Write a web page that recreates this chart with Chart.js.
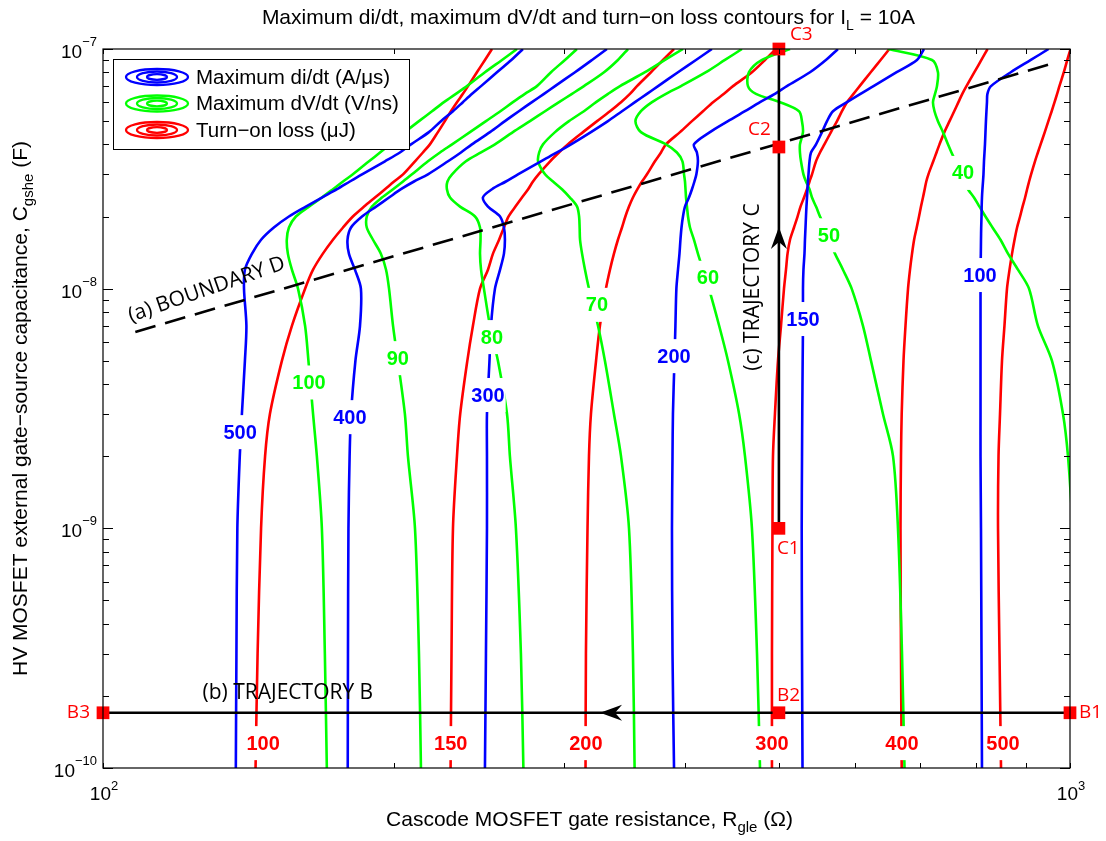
<!DOCTYPE html>
<html>
<head>
<meta charset="utf-8">
<title>Contours di/dt, dV/dt et pertes</title>
<script src="https://cdn.jsdelivr.net/npm/chart.js@4.4.1/dist/chart.umd.min.js"></script>
<style>
  html, body { margin: 0; padding: 0; background: #fff; }
  canvas { display: block; }
</style>
</head>
<body>
<canvas id="chart" width="1106" height="841"></canvas>
<script>
// Grille des capacités C_gshe (F) sur laquelle chaque contour est relevé
const capGrid = [1e-10, 3e-10, 1e-9, 2e-9, 3e-9, 5e-9, 7e-9, 1e-8, 1.2e-8, 1.4e-8, 1.6e-8, 1.8e-8, 2e-8, 2.2e-8,
    2.4e-8, 2.6e-8, 2.8e-8, 3e-8, 3.4e-8, 3.7e-8, 4e-8, 4.5e-8, 5e-8, 5.5e-8, 6e-8, 6.5e-8, 7e-8, 8e-8, 9e-8, 1e-7];

// Contours di/dt max (A/µs) : résistance R_gle (ohm) pour chaque valeur de capGrid
const diLevels = ['500', '400', '300', '200', '150', '100'];
const di500 = [137.2, 137.4, 137.7, 138.5, 139.2, 140.2, 140.7, 139.9, 140.2, 142.6, 145.7, 150.2, 155.7, 162.1, 168.4, 174.6, 180, 185.3, 195.7, 202.8, 208.2, 217.3, 223.6, 230.1, 235.6, 240.8, 246, 255.5, 264.4, 271.8];
const di400 = [179.1, 179.2, 179.4, 179.9, 180.5, 182.4, 184.4, 184.8, 182.2, 179.6, 179, 180.5, 185.3, 191.6, 197.6, 203.3, 209.7, 216.8, 227.4, 234.5, 240.7, 251.3, 260.4, 269.2, 277.7, 285.8, 293.4, 307.7, 320.4, 332];
const di300 = [248.3, 248.9, 249.5, 249.5, 249.5, 251, 251.9, 254.3, 257.4, 259.8, 260.4, 259.8, 257.4, 250.1, 247.1, 252.5, 261, 268.6, 283.7, 294.8, 304.8, 319.6, 332.8, 344.1, 354.9, 365.2, 375, 393.2, 410.4, 426.3];
const di200 = [389.5, 388.1, 387.6, 388.1, 388.5, 389.9, 390.8, 391.7, 393.2, 394.6, 395.5, 396.5, 397.9, 399.8, 403.6, 406.5, 408.9, 410.8, 412.3, 411.3, 408.4, 424.3, 442.9, 461.2, 478, 495.3, 509.6, 538.4, 559.2, 575.5];
const di150 = [528.9, 528.3, 527.9, 528.3, 528.6, 529.1, 529.5, 529.5, 530.1, 531.4, 532, 532.7, 533.3, 533.9, 534.6, 535.2, 535.8, 536.5, 537.8, 539.7, 546.2, 554, 560.7, 568.7, 588, 607.2, 626.3, 661.8, 694.6, 706.3];
const di100 = [810.9, 810, 809, 808.1, 808.1, 808.1, 808.1, 808.1, 808.1, 808.7, 809, 809.4, 810, 810.3, 810.9, 811.8, 812.9, 813.8, 814.8, 815.8, 816.7, 817.7, 818.6, 819.6, 820.6, 821.5, 828.5, 868.5, 910.9, 950.3];

// Contours dV/dt max (V/ns)
const dvLevels = ['100', '90', '80', '70', '60', '50', '40'];
const dv100 = [170.4, 169.6, 168.4, 166.4, 164.9, 163.1, 161.8, 159.1, 156.8, 155.3, 154.9, 155.7, 158.3, 163.3, 168.4, 172.9, 177.1, 181.3, 188.4, 193.4, 198, 205.2, 212.2, 218.9, 225.2, 231.7, 237.9, 248.3, 258.6, 268];
const dv90 = [213.2, 212.2, 210.2, 206.7, 205.2, 201.8, 199.5, 197.6, 196.2, 193.8, 190.2, 187.4, 187.4, 189.7, 194.3, 199.5, 204.3, 208.7, 216.8, 223.1, 229.6, 239.6, 248.9, 257.6, 265.4, 273.1, 281, 290.6, 300.4, 309.1];
const dv80 = [272.1, 270.5, 267.3, 263.5, 261.7, 256.1, 251.3, 247.7, 246, 245.4, 245.7, 245.4, 242.5, 234, 228.5, 226.8, 227.1, 229.6, 237.3, 246, 254.3, 265.4, 276.4, 286.5, 296.2, 305.5, 314.3, 329.7, 340.8, 349.1];
const dv70 = [354.6, 353.2, 349.9, 343.3, 337.6, 330.4, 325, 318.1, 315.1, 312.9, 311.4, 311.1, 310.7, 309.2, 304, 298.3, 292, 286.5, 281.8, 282.5, 285.1, 293.4, 303.3, 314.3, 323.5, 332.9, 342.5, 363.5, 381.2, 397.9];
const dv60 = [478, 474.6, 468.9, 461.2, 454.8, 442.9, 433.7, 423.3, 417.3, 412.3, 408.4, 404.6, 402.7, 401.7, 400.8, 400.3, 399.8, 398.9, 397.4, 392.2, 382.1, 360, 355.3, 360, 369.6, 382.1, 396, 420.3, 439.7, 457.9];
const dv50 = [674.3, 670.3, 663.9, 656.1, 640.6, 622.6, 610.8, 594.6, 582.4, 571.4, 563.3, 558, 551.4, 546.2, 541, 537.8, 533.3, 530.1, 527, 525.7, 525.7, 529.5, 528.2, 524.5, 501.3, 473.4, 464.5, 465.6, 480.3, 513.4];
const dv40 = [null, null, 1007, 995.2, 983.5, 958, 926.5, 907, 883.5, 862.7, 847.5, 831.5, 817.7, 806.1, 795.6, 784.3, 776.9, 771.4, 761.3, 754.1, 747.8, 739, 730.2, 724.2, 721.6, 725.1, 728.5, 730.2, 719.9, 648.2];

// Contours pertes à l'amorçage (µJ)
const lossLevels = ['100', '150', '200', '300', '400', '500'];
const loss100 = [143.8, 144.5, 145.7, 147.1, 148.8, 153.1, 156.8, 161.8, 164.9, 168.8, 172.9, 177.1, 181.3, 186.2, 191.1, 195.7, 200, 204.3, 210.2, 214.2, 217.8, 222, 225.7, 229, 232.3, 235.6, 238.5, 243.6, 248.3, 252.5];
const loss150 = [228.8, 229.3, 230.1, 232.3, 234.1, 238.1, 241.3, 245.4, 250.1, 253.1, 256.8, 259.8, 262.6, 267, 271.2, 275.2, 278.4, 282.1, 290, 296.2, 302.4, 313.6, 324.3, 334.4, 343.3, 350.7, 356.6, 368.7, 379.4, 389.5];
const loss200 = [315.5, 315.8, 317, 318.1, 319.6, 323.5, 326.5, 331.2, 334.4, 337.6, 340.8, 344.1, 346.9, 349.9, 353.2, 357, 360.9, 365.2, 372.2, 377.6, 382.1, 395.1, 406.5, 417.3, 427.4, 438.7, 448.2, 468.9, 483.7, 496.5];
const loss300 = [491.8, 491.8, 492.4, 493, 495.3, 498.9, 502.5, 506.1, 508.5, 510.4, 513.4, 518.3, 522.7, 526.4, 530.8, 534.6, 537.8, 541, 546.2, 551.4, 557.2, 566, 574.2, 581, 588, 597.2, 606, 622.2, 637, 650.5];
const loss400 = [669.8, 668.7, 667.9, 668.7, 669.8, 672.7, 675.9, 680, 683.2, 686.5, 689.9, 694.2, 698, 701.3, 704.6, 707.5, 710.2, 713.8, 722.1, 727.7, 732.9, 741.5, 750.6, 759, 766.7, 773.8, 781.5, 796.4, 809.8, 821.8];
const loss500 = [848.5, 845.5, 842.5, 843.5, 846.5, 850.5, 855.5, 860.7, 865.9, 871.1, 876.3, 881.6, 887.9, 893.2, 898.6, 902.9, 907.2, 911.5, 920, 926.4, 932.4, 941.7, 949.8, 957.3, 963.9, 969.8, 975.1, 985.4, 993.6, 1001.4];

// Points des trajectoires B et C
const pointNames = ['B1', 'B2', 'B3', 'C1', 'C2', 'C3'];
const pointR = [1000, 500, 100, 500, 500, 500];
const pointC = [1.7e-10, 1.7e-10, 1.7e-10, 1e-9, 3.9e-8, 1e-7];

// Frontière D (droite en log-log)
const boundaryR = [108, 950];
const boundaryC = [6.6e-9, 8.6e-8];

// Graduations
const xDecades = [100, 1000];
const xExponents = ['2', '3'];
const yDecades = [1e-10, 1e-9, 1e-8, 1e-7];
const yExponents = ['\u221210', '\u22129', '\u22128', '\u22127'];

const legendNames = ['Maximum di/dt (A/\u03bcs)', 'Maximum dV/dt (V/ns)', 'Turn\u2212on loss (\u03bcJ)'];

const BLUE = '#0000ff', GREEN = '#00ff00', RED = '#ff0000';
const FONT = '"Liberation Sans", Arial, sans-serif';
const FONT2 = '"Open Sans", "DejaVu Sans", sans-serif';

// Étiquettes posées sur les contours (valeur, R, C)
const contourLabels = [
    { text: diLevels[0], r: 138.6, c: 2.52e-9, color: BLUE },
    { text: diLevels[1], r: 180, c: 2.91e-9, color: BLUE },
    { text: diLevels[2], r: 250.1, c: 3.6e-9, color: BLUE },
    { text: diLevels[3], r: 389.5, c: 5.23e-9, color: BLUE },
    { text: diLevels[4], r: 529.5, c: 7.47e-9, color: BLUE },
    { text: diLevels[5], r: 807.1, c: 1.14e-8, color: BLUE },
    { text: dvLevels[0], r: 163.3, c: 4.06e-9, color: GREEN },
    { text: dvLevels[1], r: 201.8, c: 5.13e-9, color: GREEN },
    { text: dvLevels[2], r: 252.5, c: 6.28e-9, color: GREEN },
    { text: dvLevels[3], r: 324.2, c: 8.56e-9, color: GREEN },
    { text: dvLevels[4], r: 422.3, c: 1.11e-8, color: GREEN },
    { text: dvLevels[5], r: 563.3, c: 1.67e-8, color: GREEN },
    { text: dvLevels[6], r: 775.1, c: 3.04e-8, color: GREEN },
    { text: lossLevels[0], r: 146.4, c: 1.27e-10, color: RED },
    { text: lossLevels[1], r: 228.9, c: 1.27e-10, color: RED },
    { text: lossLevels[2], r: 315.8, c: 1.27e-10, color: RED },
    { text: lossLevels[3], r: 491.8, c: 1.27e-10, color: RED },
    { text: lossLevels[4], r: 670.3, c: 1.27e-10, color: RED },
    { text: lossLevels[5], r: 852.5, c: 1.27e-10, color: RED }
];

// Fonction pour créer une courbe de niveau
function contour(rValues, color) {
    const points = [];
    rValues.forEach(function (r, i) {
        if (r !== null) points.push({ x: r, y: capGrid[i] });
    });
    return { data: points, borderColor: color, borderWidth: 2.6, pointRadius: 0, showLine: true, tension: 0.3, order: 10 };
}

// Fonction pour écrire un texte avec indices / exposants
function drawRich(ctx, parts, x, y, align) {
    let total = 0;
    parts.forEach(function (p) { ctx.font = p.font; total += ctx.measureText(p.t).width; });
    let cx = align === 'center' ? x - total / 2 : (align === 'right' ? x - total : x);
    ctx.textAlign = 'left';
    parts.forEach(function (p) {
        ctx.font = p.font;
        ctx.fillText(p.t, cx, y + (p.dy || 0));
        cx += ctx.measureText(p.t).width;
    });
}

// Tête de flèche style MATLAB
function arrowHead(ctx, x, y, angle) {
    ctx.save();
    ctx.translate(x, y);
    ctx.rotate(angle);
    ctx.beginPath();
    ctx.moveTo(0, 0);
    ctx.lineTo(-22, -8);
    ctx.lineTo(-15, 0);
    ctx.lineTo(-22, 8);
    ctx.closePath();
    ctx.fillStyle = '#000';
    ctx.fill();
    ctx.restore();
}

const decor = {
    id: 'decor',
    afterDatasetsDraw(chart) {
        const ctx = chart.ctx, xs = chart.scales.x, ys = chart.scales.y;
        ctx.save();
        // étiquettes des contours (coupent la ligne)
        ctx.font = 'bold 20px ' + FONT;
        ctx.textAlign = 'center';
        ctx.textBaseline = 'middle';
        contourLabels.forEach(function (l) {
            const px = xs.getPixelForValue(l.r), py = ys.getPixelForValue(l.c);
            const w = ctx.measureText(l.text).width;
            ctx.fillStyle = '#fff';
            ctx.fillRect(px - w / 2 - 1, py - 17, w + 2, 34);
            ctx.fillStyle = l.color;
            ctx.fillText(l.text, px, py + 1);
        });
        // flèches des trajectoires
        arrowHead(ctx, xs.getPixelForValue(326.6), ys.getPixelForValue(pointC[0]), Math.PI);
        arrowHead(ctx, xs.getPixelForValue(pointR[3]), ys.getPixelForValue(1.81e-8), -Math.PI / 2);
        ctx.restore();
    },
    afterDraw(chart) {
        const ctx = chart.ctx, xs = chart.scales.x, ys = chart.scales.y;
        const a = chart.chartArea;
        ctx.save();
        ctx.strokeStyle = '#000';
        ctx.fillStyle = '#000';

        // cadre et graduations
        ctx.lineWidth = 1.2;
        ctx.strokeRect(a.left, a.top, a.right - a.left, a.bottom - a.top);
        ctx.lineWidth = 1;
        ctx.beginPath();
        xDecades.forEach(function (d) {
            for (let k = 1; k < 10; k++) {
                const v = d * k;
                if (v > 1000) break;
                const px = Math.round(xs.getPixelForValue(v)) + 0.5;
                ctx.moveTo(px, a.bottom); ctx.lineTo(px, a.bottom - 5);
                ctx.moveTo(px, a.top); ctx.lineTo(px, a.top + 5);
            }
        });
        yDecades.forEach(function (d) {
            for (let k = 1; k < 10; k++) {
                const v = d * k;
                if (v > 1.0001e-7) break;
                const py = Math.round(ys.getPixelForValue(v)) + 0.5;
                const len = k === 1 ? 10 : 6;
                ctx.moveTo(a.left, py); ctx.lineTo(a.left + len, py);
                ctx.moveTo(a.right, py); ctx.lineTo(a.right - len, py);
            }
        });
        ctx.stroke();

        // libellés des décades
        ctx.textBaseline = 'alphabetic';
        xDecades.forEach(function (v, i) {
            drawRich(ctx, [{ t: '10', font: '19px ' + FONT }, { t: xExponents[i], font: '13px ' + FONT, dy: -10 }],
                xs.getPixelForValue(v) + 1, a.bottom + 32, 'center');
        });
        yDecades.forEach(function (v, i) {
            drawRich(ctx, [{ t: '10', font: '19px ' + FONT, dy: 9 }, { t: yExponents[i], font: '13px ' + FONT, dy: -3 }],
                a.left - 6, ys.getPixelForValue(v), 'right');
        });

        // titre et titres d'axes
        const mid = (a.left + a.right) / 2;
        drawRich(ctx, [
            { t: 'Maximum di/dt, maximum dV/dt and turn\u2212on loss contours for I', font: '21px ' + FONT },
            { t: 'L', font: '14px ' + FONT, dy: 6 },
            { t: ' = 10A', font: '21px ' + FONT }
        ], mid + 2, 24, 'center');
        drawRich(ctx, [
            { t: 'Cascode MOSFET gate resistance, R', font: '21px ' + FONT },
            { t: 'gle', font: '15px ' + FONT, dy: 6 },
            { t: ' (\u03a9)', font: '21px ' + FONT }
        ], mid + 3, 826, 'center');
        ctx.save();
        ctx.translate(27, (a.top + a.bottom) / 2);
        ctx.rotate(-Math.PI / 2);
        drawRich(ctx, [
            { t: 'HV MOSFET external gate\u2212source capacitance, C', font: '21px ' + FONT },
            { t: 'gshe', font: '15px ' + FONT, dy: 6 },
            { t: ' (F)', font: '21px ' + FONT }
        ], 0, 0, 'center');
        ctx.restore();

        // légende
        const lx = a.left + 10, ly = a.top + 10;
        ctx.fillStyle = '#fff';
        ctx.fillRect(lx, ly, 296, 90);
        ctx.lineWidth = 1;
        ctx.strokeStyle = '#000';
        ctx.strokeRect(lx + 0.5, ly + 0.5, 296, 90);
        [BLUE, GREEN, RED].forEach(function (col, i) {
            const cy = ly + 18 + i * 26.5, cx = lx + 44;
            ctx.strokeStyle = col;
            ctx.lineWidth = 2.3;
            [[31, 8], [20, 5.5], [10, 2.8]].forEach(function (e) {
                ctx.beginPath();
                ctx.ellipse(cx, cy, e[0], e[1], 0, 0, Math.PI * 2);
                ctx.stroke();
            });
            ctx.fillStyle = '#000';
            ctx.font = '20.5px ' + FONT;
            ctx.textAlign = 'left';
            ctx.textBaseline = 'middle';
            ctx.fillText(legendNames[i], lx + 83, cy + 1);
        });

        // noms des points
        ctx.font = '19px ' + FONT2;
        ctx.fillStyle = RED;
        ctx.textBaseline = 'middle';
        const offs = [[9, 0, 'left'], [-2, -17, 'left'], [-13, 0, 'right'], [-2, 20, 'left'], [-8, -17, 'right'], [11, -14, 'left']];
        pointNames.forEach(function (n, i) {
            ctx.textAlign = offs[i][2];
            ctx.fillText(n, xs.getPixelForValue(pointR[i]) + offs[i][0], ys.getPixelForValue(pointC[i]) + offs[i][1]);
        });

        // textes des trajectoires et de la frontière
        ctx.fillStyle = '#000';
        ctx.font = '21px ' + FONT2;
        ctx.textAlign = 'center';
        const notes = [
            { t: '(a) BOUNDARY D', r: 128, c: 9.9e-9, rot: -19 },
            { t: '(b) TRAJECTORY B', r: 155.3, c: 2.06e-10, rot: 0 },
            { t: '(c) TRAJECTORY C', r: 470.1, c: 1.016e-8, rot: -90 }
        ];
        notes.forEach(function (n) {
            ctx.save();
            ctx.translate(xs.getPixelForValue(n.r), ys.getPixelForValue(n.c));
            ctx.rotate(n.rot * Math.PI / 180);
            ctx.fillText(n.t, 0, 0);
            ctx.restore();
        });
        ctx.restore();
    }
};

const datasets = [
    { data: pointR.map(function (r, i) { return { x: r, y: pointC[i] }; }), pointStyle: 'rect', pointRadius: 9,
      backgroundColor: RED, borderColor: RED, borderWidth: 0, showLine: false, clip: false, order: 1 },
    { data: [0, 1, 2].map(function (i) { return { x: pointR[i], y: pointC[i] }; }), borderColor: '#000', borderWidth: 2.6,
      pointRadius: 0, showLine: true, order: 2 },
    { data: [3, 4, 5].map(function (i) { return { x: pointR[i], y: pointC[i] }; }), borderColor: '#000', borderWidth: 2.6,
      pointRadius: 0, showLine: true, order: 2 },
    { data: boundaryR.map(function (r, i) { return { x: r, y: boundaryC[i] }; }), borderColor: '#000', borderWidth: 2.6,
      borderDash: [21, 10], pointRadius: 0, showLine: true, order: 2 },
    contour(di500, BLUE), contour(di400, BLUE), contour(di300, BLUE),
    contour(di200, BLUE), contour(di150, BLUE), contour(di100, BLUE),
    contour(dv100, GREEN), contour(dv90, GREEN), contour(dv80, GREEN), contour(dv70, GREEN),
    contour(dv60, GREEN), contour(dv50, GREEN), contour(dv40, GREEN),
    contour(loss100, RED), contour(loss150, RED), contour(loss200, RED),
    contour(loss300, RED), contour(loss400, RED), contour(loss500, RED)
];

new Chart(document.getElementById('chart'), {
    type: 'scatter',
    data: { datasets: datasets },
    options: {
        responsive: false,
        animation: false,
        events: [],
        devicePixelRatio: 1,
        layout: { padding: { left: 103, top: 49, right: 36, bottom: 73 } },
        scales: {
            x: { type: 'logarithmic', min: 100, max: 1000, display: false },
            y: { type: 'logarithmic', min: 1e-10, max: 1e-7, display: false }
        },
        plugins: {
            legend: { display: false },
            tooltip: { enabled: false },
            title: { display: false }
        }
    },
    plugins: [decor]
});
</script>
</body>
</html>
